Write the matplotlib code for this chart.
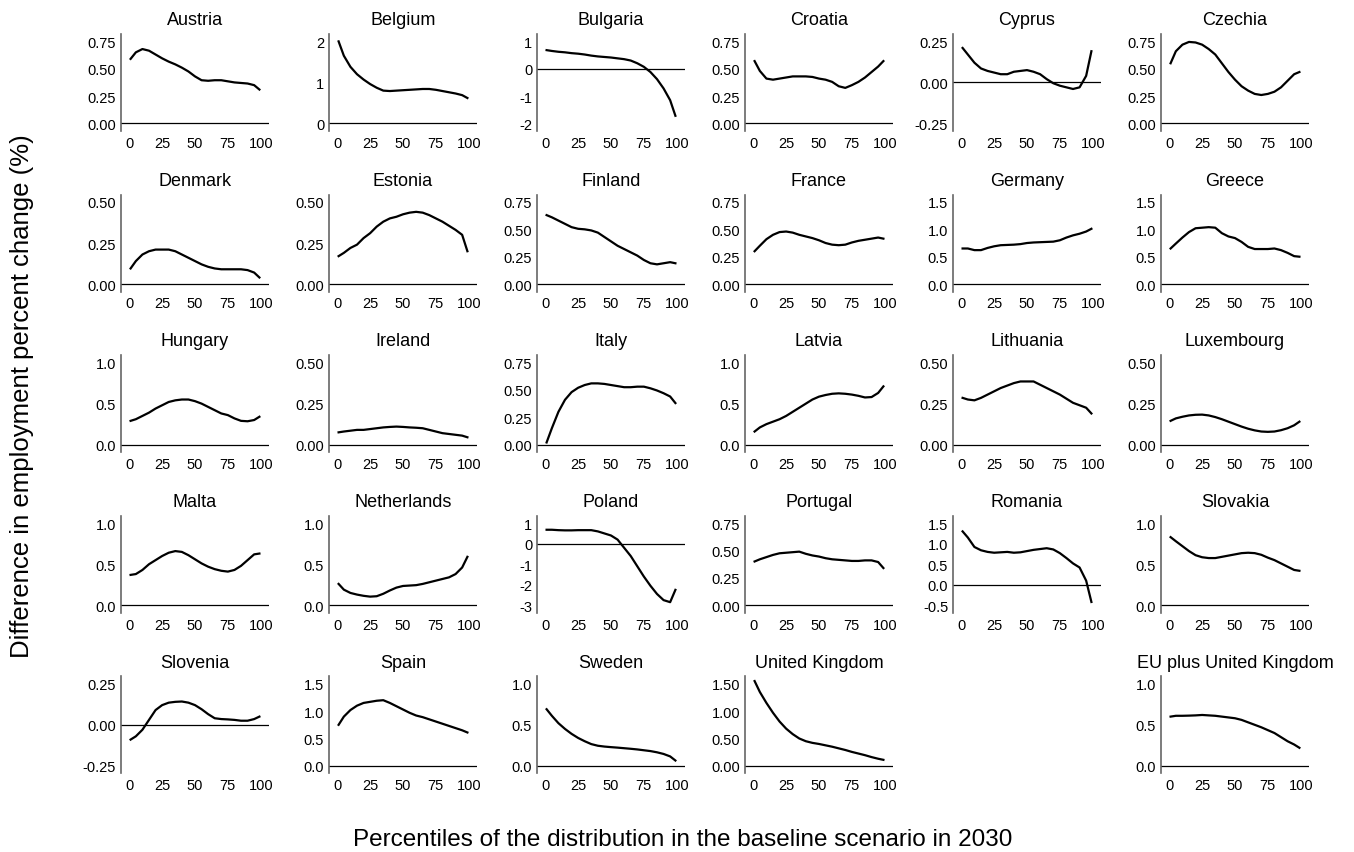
import matplotlib
matplotlib.use("Agg")
import matplotlib.pyplot as plt

plt.rcParams['font.family'] = ['Liberation Sans', 'DejaVu Sans']

# ---------------- data ----------------
percentiles = [1, 5, 10, 15, 20, 25, 30, 35, 40, 45, 50, 55, 60, 65, 70, 75, 80, 85, 90, 95, 99]
x_ticks = [0, 25, 50, 75, 100]

countries = ["Austria", "Belgium", "Bulgaria", "Croatia", "Cyprus", "Czechia",
             "Denmark", "Estonia", "Finland", "France", "Germany", "Greece",
             "Hungary", "Ireland", "Italy", "Latvia", "Lithuania", "Luxembourg",
             "Malta", "Netherlands", "Poland", "Portugal", "Romania", "Slovakia",
             "Slovenia", "Spain", "Sweden", "United Kingdom", "EU plus United Kingdom"]

austria = [0.59, 0.65, 0.68, 0.665, 0.63, 0.595, 0.565, 0.54, 0.51, 0.475, 0.43, 0.395, 0.39, 0.395, 0.395, 0.385, 0.375, 0.37, 0.365, 0.35, 0.31]
belgium = [2.0, 1.65, 1.38, 1.2, 1.07, 0.96, 0.87, 0.8, 0.79, 0.8, 0.81, 0.82, 0.83, 0.84, 0.84, 0.82, 0.79, 0.76, 0.73, 0.69, 0.62]
bulgaria = [0.68, 0.65, 0.62, 0.6, 0.57, 0.55, 0.52, 0.48, 0.45, 0.43, 0.41, 0.38, 0.35, 0.3, 0.2, 0.07, -0.12, -0.38, -0.72, -1.15, -1.72]
croatia = [0.57, 0.48, 0.41, 0.40, 0.41, 0.42, 0.43, 0.43, 0.43, 0.425, 0.41, 0.40, 0.38, 0.34, 0.325, 0.35, 0.38, 0.42, 0.47, 0.52, 0.57]
cyprus = [0.21, 0.17, 0.12, 0.085, 0.07, 0.06, 0.05, 0.05, 0.065, 0.07, 0.075, 0.065, 0.05, 0.02, -0.005, -0.02, -0.03, -0.04, -0.03, 0.04, 0.19]
czechia = [0.55, 0.66, 0.72, 0.745, 0.74, 0.72, 0.68, 0.63, 0.55, 0.47, 0.4, 0.34, 0.3, 0.27, 0.26, 0.27, 0.29, 0.33, 0.39, 0.45, 0.47]
denmark = [0.095, 0.14, 0.18, 0.2, 0.21, 0.21, 0.21, 0.2, 0.18, 0.16, 0.14, 0.12, 0.105, 0.095, 0.09, 0.09, 0.09, 0.09, 0.085, 0.07, 0.04]
estonia = [0.17, 0.19, 0.22, 0.24, 0.28, 0.31, 0.35, 0.38, 0.40, 0.41, 0.425, 0.435, 0.44, 0.435, 0.42, 0.4, 0.38, 0.355, 0.33, 0.3, 0.2]
finland = [0.63, 0.61, 0.58, 0.55, 0.52, 0.505, 0.50, 0.49, 0.47, 0.43, 0.39, 0.35, 0.32, 0.29, 0.26, 0.22, 0.19, 0.18, 0.19, 0.2, 0.19]
france = [0.3, 0.35, 0.41, 0.45, 0.475, 0.48, 0.47, 0.45, 0.435, 0.42, 0.40, 0.375, 0.36, 0.355, 0.36, 0.38, 0.395, 0.405, 0.415, 0.425, 0.415]
germany = [0.65, 0.65, 0.62, 0.62, 0.66, 0.69, 0.71, 0.715, 0.72, 0.73, 0.75, 0.76, 0.765, 0.77, 0.775, 0.8, 0.85, 0.89, 0.92, 0.96, 1.01]
greece = [0.65, 0.74, 0.85, 0.95, 1.02, 1.03, 1.04, 1.03, 0.93, 0.87, 0.84, 0.77, 0.68, 0.64, 0.64, 0.64, 0.65, 0.62, 0.57, 0.51, 0.5]
hungary = [0.29, 0.31, 0.35, 0.39, 0.44, 0.48, 0.52, 0.54, 0.55, 0.55, 0.53, 0.5, 0.46, 0.42, 0.38, 0.36, 0.32, 0.29, 0.285, 0.3, 0.34]
ireland = [0.075, 0.08, 0.085, 0.09, 0.09, 0.095, 0.1, 0.105, 0.108, 0.11, 0.108, 0.105, 0.103, 0.1, 0.09, 0.08, 0.07, 0.065, 0.06, 0.055, 0.045]
italy = [0.02, 0.15, 0.3, 0.41, 0.48, 0.52, 0.545, 0.56, 0.56, 0.555, 0.545, 0.535, 0.525, 0.525, 0.53, 0.53, 0.515, 0.495, 0.47, 0.44, 0.38]
latvia = [0.16, 0.21, 0.25, 0.28, 0.31, 0.35, 0.4, 0.45, 0.5, 0.55, 0.585, 0.605, 0.62, 0.625, 0.62, 0.61, 0.595, 0.575, 0.58, 0.63, 0.71]
lithuania = [0.285, 0.275, 0.27, 0.285, 0.305, 0.325, 0.345, 0.36, 0.375, 0.385, 0.385, 0.385, 0.365, 0.345, 0.325, 0.305, 0.28, 0.255, 0.24, 0.225, 0.19]
luxembourg = [0.145, 0.16, 0.17, 0.178, 0.182, 0.183, 0.178, 0.168, 0.155, 0.14, 0.125, 0.11, 0.097, 0.087, 0.08, 0.078, 0.08, 0.088, 0.1, 0.118, 0.14]
malta = [0.37, 0.38, 0.43, 0.5, 0.55, 0.6, 0.64, 0.66, 0.65, 0.61, 0.56, 0.51, 0.47, 0.44, 0.42, 0.41, 0.43, 0.48, 0.55, 0.62, 0.63]
netherlands = [0.26, 0.19, 0.15, 0.13, 0.115, 0.105, 0.11, 0.14, 0.18, 0.215, 0.235, 0.24, 0.245, 0.26, 0.28, 0.3, 0.32, 0.34, 0.38, 0.46, 0.59]
poland = [0.68, 0.68, 0.66, 0.65, 0.65, 0.66, 0.66, 0.66, 0.6, 0.5, 0.4, 0.2, -0.2, -0.6, -1.1, -1.6, -2.05, -2.45, -2.75, -2.85, -2.25]
portugal = [0.4, 0.42, 0.44, 0.46, 0.475, 0.48, 0.485, 0.49, 0.47, 0.455, 0.445, 0.43, 0.42, 0.415, 0.41, 0.405, 0.405, 0.41, 0.41, 0.395, 0.34]
romania = [1.3, 1.15, 0.92, 0.84, 0.8, 0.78, 0.79, 0.8, 0.78, 0.79, 0.82, 0.85, 0.87, 0.89, 0.86, 0.77, 0.65, 0.52, 0.42, 0.1, -0.42]
slovakia = [0.83, 0.78, 0.72, 0.66, 0.61, 0.585, 0.575, 0.575, 0.59, 0.605, 0.62, 0.635, 0.64, 0.635, 0.615, 0.58, 0.55, 0.51, 0.47, 0.43, 0.42]
slovenia = [-0.09, -0.07, -0.03, 0.03, 0.09, 0.12, 0.135, 0.14, 0.142, 0.135, 0.12, 0.095, 0.065, 0.04, 0.035, 0.033, 0.03, 0.025, 0.025, 0.035, 0.05]
spain = [0.75, 0.9, 1.02, 1.1, 1.15, 1.17, 1.19, 1.2, 1.15, 1.09, 1.03, 0.97, 0.92, 0.89, 0.85, 0.81, 0.77, 0.73, 0.69, 0.65, 0.61]
sweden = [0.69, 0.61, 0.52, 0.45, 0.39, 0.34, 0.3, 0.265, 0.245, 0.235, 0.228, 0.222, 0.215, 0.208, 0.2, 0.19, 0.18, 0.165, 0.145, 0.115, 0.065]
united_kingdom = [1.55, 1.35, 1.15, 0.97, 0.81, 0.68, 0.58, 0.5, 0.45, 0.42, 0.4, 0.375, 0.35, 0.32, 0.29, 0.255, 0.225, 0.195, 0.16, 0.13, 0.11]
eu_plus_uk = [0.6, 0.61, 0.61, 0.612, 0.615, 0.62, 0.615, 0.61, 0.6, 0.59, 0.58, 0.56, 0.53, 0.5, 0.47, 0.435, 0.4, 0.35, 0.3, 0.26, 0.22]

ytl_q2 = ["0.00", "0.25", "0.50", "0.75"]
ytl_h2 = ["0.00", "0.25", "0.50"]
ytl_1d = ["0.0", "0.5", "1.0"]
ytl_15 = ["0.0", "0.5", "1.0", "1.5"]
ytl_sym = ["-0.25", "0.00", "0.25"]
ytl_belgium = ["0", "1", "2"]
ytl_bulgaria = ["-2", "-1", "0", "1"]
ytl_poland = ["-3", "-2", "-1", "0", "1"]
ytl_romania = ["-0.5", "0.0", "0.5", "1.0", "1.5"]
ytl_uk = ["0.00", "0.50", "1.00", "1.50"]

values = [austria, belgium, bulgaria, croatia, cyprus, czechia,
          denmark, estonia, finland, france, germany, greece,
          hungary, ireland, italy, latvia, lithuania, luxembourg,
          malta, netherlands, poland, portugal, romania, slovakia,
          slovenia, spain, sweden, united_kingdom, eu_plus_uk]

ytick_labels = [ytl_q2, ytl_belgium, ytl_bulgaria, ytl_q2, ytl_sym, ytl_q2,
                ytl_h2, ytl_h2, ytl_q2, ytl_q2, ytl_15, ytl_15,
                ytl_1d, ytl_h2, ytl_q2, ytl_1d, ytl_h2, ytl_h2,
                ytl_1d, ytl_1d, ytl_poland, ytl_q2, ytl_romania, ytl_1d,
                ytl_sym, ytl_15, ytl_1d, ytl_uk, ytl_1d]

# ---------------- layout ----------------
W, H = 1354, 853
fig = plt.figure(figsize=(W / 100, H / 100), dpi=100)

ax_left0, col_step, ax_w = 121, 208, 148
ax_top0, row_step, ax_h = 35, 160.6, 97

for i, name in enumerate(countries):
    if i < 28:
        r, c = divmod(i, 6)
    else:
        r, c = 4, 5
    left = (ax_left0 + c * col_step) / W
    bottom = 1 - (ax_top0 + r * row_step + ax_h) / H
    ax = fig.add_axes([left, bottom, ax_w / W, ax_h / H])

    ax.axhline(0, color='black', lw=0.9, zorder=1)
    ax.plot(percentiles, values[i], color='black', lw=1.6, zorder=2)

    labels = ytick_labels[i]
    ticks = [float(t) for t in labels]
    lo, hi = min(ticks), max(ticks)
    span = hi - lo
    ax.set_ylim(lo - 0.092 * span, hi + 0.09 * span)
    ax.set_xlim(-6.3, 106.3)
    ax.set_yticks(ticks)
    ax.set_yticklabels(labels)
    ax.set_xticks(x_ticks)
    ax.set_xticklabels([str(t) for t in x_ticks])

    for s in ['top', 'right', 'bottom']:
        ax.spines[s].set_visible(False)
    ax.spines['left'].set_color('#666666')
    ax.spines['left'].set_linewidth(1.2)
    ax.tick_params(axis='both', length=0, labelsize=10.5, colors='black')
    ax.tick_params(axis='y', pad=3.5)
    ax.tick_params(axis='x', pad=3.5)
    ax.set_title(name, fontsize=13, pad=7)
    ax.patch.set_visible(False)

fig.text(22 / W, 1 - 396 / H, "Difference in employment percent change (%)",
         rotation=90, ha='center', va='center', fontsize=18.5)
fig.text(683 / W, 1 - 840 / H, "Percentiles of the distribution in the baseline scenario in 2030",
         ha='center', va='center', fontsize=17.5)

fig.savefig("out.png", dpi=100, facecolor='white')
